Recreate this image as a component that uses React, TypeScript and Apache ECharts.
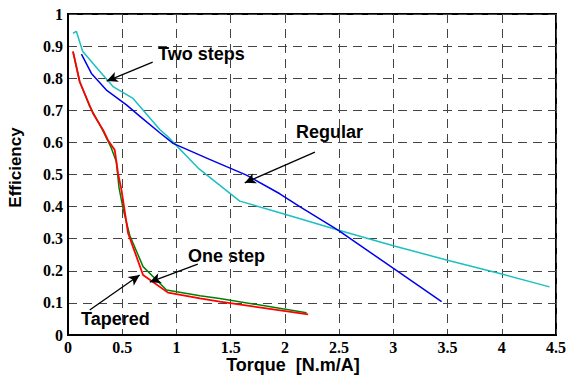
import React, { useEffect, useRef } from "react";
import * as echarts from "echarts";

const xTicks = ["0", "0.5", "1", "1.5", "2", "2.5", "3", "3.5", "4", "4.5"];
const yTicks = ["0", "0.1", "0.2", "0.3", "0.4", "0.5", "0.6", "0.7", "0.8", "0.9", "1"];

const twoSteps: [number, number][] = [
  [0.046, 0.94], [0.077, 0.946], [0.135, 0.884], [0.28, 0.826], [0.415, 0.774],
  [0.6, 0.737], [0.846, 0.64], [0.92, 0.618], [1.2, 0.52], [1.584, 0.417],
  [1.953, 0.381], [2.49, 0.327], [3.0, 0.278], [3.5, 0.233], [4.0, 0.19], [4.44, 0.15],
];
const regular: [number, number][] = [
  [0.124, 0.875], [0.216, 0.815], [0.354, 0.763], [0.539, 0.717], [0.661, 0.682],
  [0.846, 0.63], [0.969, 0.597], [1.3, 0.548], [1.646, 0.498], [1.953, 0.44],
  [2.137, 0.4], [2.49, 0.327], [2.998, 0.208], [3.445, 0.104],
];
const oneStep: [number, number][] = [
  [0.046, 0.883], [0.108, 0.789], [0.2, 0.712], [0.323, 0.636], [0.4, 0.582],
  [0.446, 0.54], [0.47, 0.46], [0.51, 0.39], [0.57, 0.31], [0.692, 0.213],
  [0.908, 0.14], [1.217, 0.122], [1.4, 0.114], [2.2, 0.069],
];
const tapered: [number, number][] = [
  [0.046, 0.883], [0.108, 0.789], [0.231, 0.69], [0.323, 0.639], [0.369, 0.607],
  [0.431, 0.576], [0.461, 0.504], [0.493, 0.452], [0.554, 0.317], [0.692, 0.187],
  [0.922, 0.132], [1.217, 0.114], [1.4, 0.104], [2.214, 0.064],
];

const arrowTwoSteps = [[0.781, 0.85], [0.357, 0.791]];
const arrowRegular = [[2.277, 0.57], [1.63, 0.474]];
const arrowOneStep = [[1.197, 0.221], [0.754, 0.165]];
const arrowTapered = [[0.2, 0.078], [0.661, 0.187]];

const mkArrow = (a: number[][]) => ({
  silent: true,
  symbol: ["none", "arrow"],
  symbolSize: [8, 11],
  label: { show: false },
  lineStyle: { color: "#000", width: 1.3, type: "solid" as const },
  data: [[{ coord: a[0] }, { coord: a[1] }]],
});

const serif = "Liberation Serif";
const sans = "Liberation Sans";

const mkRich = () => ({ t: { fontFamily: serif, fontWeight: "bold", fontSize: 16, color: "#000" } });
const mkSplit = () => ({ show: true, lineStyle: { color: "#444", type: [9, 6], width: 1 } });

export default function App() {
  const ref = useRef<HTMLDivElement>(null);
  useEffect(() => {
    if (!ref.current) return;
    const chart = echarts.init(ref.current, undefined, { renderer: "svg" });
    chart.setOption({
      animation: false,
      backgroundColor: "#fff",
      grid: {
        left: 68, right: 12, top: 14, bottom: 41, outerBoundsMode: "none",
        show: true, borderColor: "#000", borderWidth: 2, backgroundColor: "transparent",
      },
      xAxis: {
        type: "value", min: 0, max: 4.5, interval: 0.5,
        axisLabel: {
          margin: 4,
          formatter: (v: number) => "{t|" + (xTicks[Math.round(v / 0.5)] ?? "") + "}",
          rich: mkRich(),
        },
        name: "Torque  [N.m/A]", nameLocation: "middle", nameGap: 21, nameMoveOverlap: false,
        nameTextStyle: { fontFamily: sans, fontWeight: "bold", fontSize: 18, color: "#000", padding: [0, 38, 0, 0] },
        axisLine: { show: true, lineStyle: { color: "#000", width: 2 } },
        axisTick: { show: false },
        splitLine: mkSplit(),
      },
      yAxis: {
        type: "value", min: 0, max: 1, interval: 0.1,
        axisLabel: {
          margin: 5,
          formatter: (v: number) => "{t|" + (yTicks[Math.round(v / 0.1)] ?? "") + "}",
          rich: mkRich(),
        },
        name: "Efficiency", nameLocation: "middle", nameGap: 44, nameRotate: 90, nameMoveOverlap: false,
        nameTextStyle: { fontFamily: sans, fontWeight: "bold", fontSize: 17, color: "#000", padding: [0, 0, 0, 14] },
        axisLine: { show: true, lineStyle: { color: "#000", width: 2 } },
        axisTick: { show: false },
        splitLine: mkSplit(),
      },
      series: [
        { name: "Two steps", type: "line", data: twoSteps, showSymbol: false, lineStyle: { color: "#1cc0c0", width: 1.5 }, markLine: mkArrow(arrowTwoSteps) },
        { name: "Regular", type: "line", data: regular, showSymbol: false, lineStyle: { color: "#0000ee", width: 1.5 }, markLine: mkArrow(arrowRegular) },
        { name: "One step", type: "line", data: oneStep, showSymbol: false, lineStyle: { color: "#008000", width: 1.5 }, markLine: mkArrow(arrowOneStep) },
        { name: "Tapered", type: "line", data: tapered, showSymbol: false, lineStyle: { color: "#ff0000", width: 1.8 }, markLine: mkArrow(arrowTapered) },
      ],
      graphic: [
        { type: "text", left: 158, top: 45, style: { text: "Two steps", font: `bold 18px ${sans}`, fill: "#000" } },
        { type: "text", left: 296, top: 123, style: { text: "Regular", font: `bold 18px ${sans}`, fill: "#000" } },
        { type: "text", left: 188, top: 247, style: { text: "One step", font: `bold 18px ${sans}`, fill: "#000" } },
        { type: "text", left: 81, top: 310, style: { text: "Tapered", font: `bold 18px ${sans}`, fill: "#000" } },
      ],
    });
    return () => chart.dispose();
  }, []);
  return <div ref={ref} style={{ width: 568, height: 376, position: "absolute", left: 0, top: 0 }} />;
}
